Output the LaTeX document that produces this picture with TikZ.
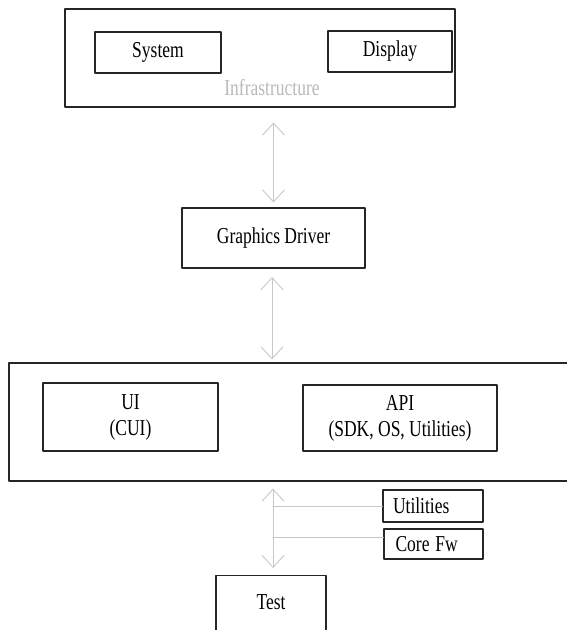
\documentclass[tikz,border=0pt]{standalone}
\usepackage{graphicx}
\usepackage{fontspec}
\setmainfont{Liberation Serif}
\usetikzlibrary{arrows.meta}
\definecolor{linkgray}{RGB}{200,200,200}
\definecolor{labelgray}{RGB}{185,185,185}
\newcommand{\tallt}[1]{\scalebox{1}[1.3]{#1}}
\tikzset{
	box/.style={draw=black!85, line width=1.1pt, inner sep=0pt},
	link/.style={draw=linkgray, line width=0.9pt, {Straight Barb[length=12pt,width=22pt]}-{Straight Barb[length=12pt,width=22pt]}},
	branch/.style={draw=linkgray, line width=0.9pt}
}
\begin{document}
\begin{tikzpicture}[x=1pt, y=-1pt, font=\fontsize{17.5}{26}\selectfont, line join=round, line cap=round]
			\useasboundingbox (0,0) rectangle (566,630);
			% Infrastructure
			\node[box, minimum width=390pt, minimum height=98pt] (infra) at (260,58) {};
			\node[box, minimum width=126pt, minimum height=41pt] (sys) at (158,52.5) {\tallt{System}};
			\node[box, minimum width=124pt, minimum height=41pt] (disp) at (390,51.5) {\tallt{Display}};
			\node[text=labelgray] (infralabel) at (272,88) {\tallt{Infrastructure}};
			% Graphics Driver
			\node[box, minimum width=183pt, minimum height=60pt] (gd) at (273.5,238) {\tallt{Graphics Driver}};
			% UI / API
			\node[box, minimum width=562pt, minimum height=118pt] (apps) at (290,422) {};
			\node[box, minimum width=175pt, minimum height=68pt, align=center] (ui) at (130.5,417) {\tallt{UI}\\\tallt{(CUI)}};
			\node[box, minimum width=194pt, minimum height=66pt, align=center] (api) at (400,418) {\tallt{API}\\ \tallt{(SDK, OS, Utilities)}};
			% Test
			\node[box, minimum width=100pt, minimum height=32pt, text width=80pt, align=left] (util) at (433,506) {\tallt{Utilities}};
			\node[box, minimum width=99pt, minimum height=30pt, text width=76pt, align=left] (core) at (433.5,544) {\tallt{Core Fw}};
			\node[box, minimum width=110pt, minimum height=62pt, anchor=north] (test) at (271,575) {};
			\node (testlabel) at (271,602) {\tallt{Test}};
			% connectors
			\coordinate (gdlow) at (272,268);
			\coordinate (testup) at (273,0);
			\draw[link, shorten <=15pt, shorten >=5pt] (infra.south -| gd.north) -- (gd.north);
			\draw[link, shorten <=9pt, shorten >=3pt] (gdlow) -- (apps.north -| gdlow);
			\draw[link, shorten <=7pt, shorten >=7pt] (apps.south -| testup) -- (test.north -| testup);
			\draw[branch] (util.west) -- (util.west -| testup);
			\draw[branch] ([yshift=7pt]core.west) -- ([yshift=7pt]core.west -| testup);
		\end{tikzpicture}
\end{document}
